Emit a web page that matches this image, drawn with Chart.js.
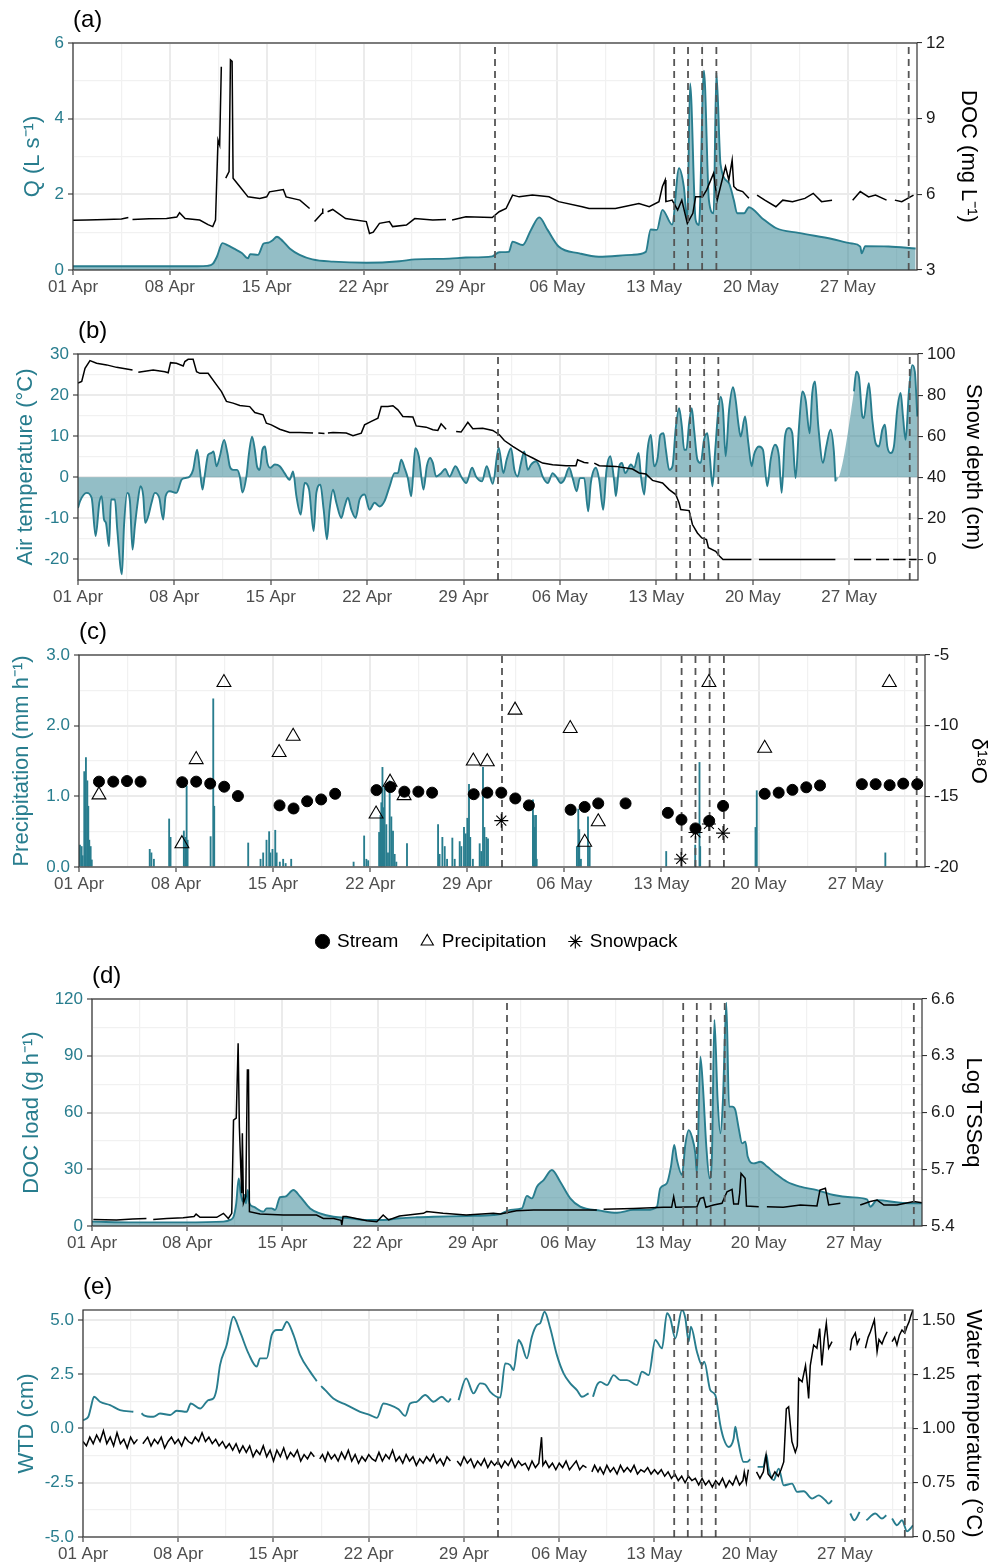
<!DOCTYPE html>
<html><head><meta charset="utf-8">
<script src="https://cdn.jsdelivr.net/npm/chart.js@4.4.1/dist/chart.umd.min.js"></script>
<style>
html,body{margin:0;padding:0;background:#fff;}
#wrap{position:relative;width:995px;height:1565px;overflow:hidden;}
.pan{position:absolute;left:0;width:995px;}
</style></head><body>
<div id="wrap">
<div class="pan" style="top:0px;height:310px"><canvas id="ca"></canvas></div>
<div class="pan" style="top:310px;height:310px"><canvas id="cb"></canvas></div>
<div class="pan" style="top:620px;height:341px"><canvas id="cc"></canvas></div>
<div class="pan" style="top:960px;height:305px"><canvas id="cd"></canvas></div>
<div class="pan" style="top:1265px;height:300px"><canvas id="ce"></canvas></div>
</div>
<script>
// ---------------- DATA (x = days since 01 Apr 00:00) ----------------
const xTickDays = [0,7,14,21,28,35,42,49,56];
const xTickLabels = ['01 Apr','08 Apr','15 Apr','22 Apr','29 Apr','06 May','13 May','20 May','27 May'];
const eventDays = [30.5,43.45,44.45,45.47,46.5,60.4];

// (a) discharge Q (L s-1) and DOC (mg L-1)
const qData = [[0,0.1],[3,0.1],[6,0.1],[9,0.1],[9.7,0.11],[10.1,0.16],[10.4,0.35],[10.8,0.71],[11.2,0.65],[11.6,0.57],[12.2,0.45],[12.65,0.31],[12.8,0.42],[13.37,0.40],[13.78,0.70],[14.1,0.72],[14.4,0.78],[14.74,0.88],[15.17,0.76],[15.66,0.57],[16.38,0.40],[17.3,0.28],[18.8,0.22],[21.2,0.19],[23.6,0.23],[24.7,0.28],[27.2,0.30],[28.4,0.33],[30.3,0.36],[30.8,0.47],[31.5,0.48],[31.77,0.75],[32.5,0.66],[33.1,1.06],[33.7,1.39],[34.3,1.06],[35.1,0.62],[36.6,0.44],[38.0,0.35],[40.4,0.40],[41.4,0.48],[41.75,1.07],[42.2,1.06],[42.6,1.59],[43.3,1.2],[43.8,2.69],[44.15,2.2],[44.4,1.32],[44.6,4.93],[45.0,1.32],[45.24,1.19],[45.6,5.27],[45.96,1.85],[46.3,1.5],[46.5,5.22],[46.8,2.8],[47.4,2.3],[47.76,1.85],[48.0,1.5],[48.5,1.5],[48.85,1.66],[49.8,1.37],[50.8,1.11],[52.45,0.98],[54.86,0.82],[56.3,0.70],[56.9,0.62],[57.0,0.44],[57.26,0.63],[58.95,0.62],[60.9,0.57]];
const docData = [[0,4.97],[1,4.98],[2.4,5.0],[3.5,5.02],[4.0,5.08],[4.15,null],[4.3,5.0],[5.5,5.03],[6.76,5.04],[7.5,5.1],[7.7,5.27],[8.1,5.04],[9.16,4.98],[9.76,4.8],[10.1,4.72],[10.3,4.98],[10.48,8.15],[10.6,7.95],[10.72,11.06],[10.85,null],[11.04,6.64],[11.28,6.9],[11.38,11.33],[11.5,11.27],[11.57,6.64],[12.05,6.31],[12.65,5.9],[13.5,5.84],[14.0,5.9],[14.2,6.1],[15.2,6.19],[15.4,5.9],[16.4,5.77],[17.1,5.44],[17.25,null],[17.46,4.92],[18.0,5.25],[18.05,5.44],[18.2,null],[18.4,5.31],[18.77,5.4],[19.7,5.04],[21.2,4.92],[21.43,4.45],[21.7,4.5],[22.15,4.85],[22.87,4.92],[23.1,4.72],[24.1,4.78],[24.7,5.04],[26.0,4.98],[26.96,5.0],[27.15,null],[27.4,4.98],[28.4,5.11],[30.3,5.08],[30.8,5.31],[31.3,5.44],[31.77,5.97],[32.25,5.9],[33.2,5.97],[34.4,5.9],[35.1,5.71],[36.8,5.51],[37.3,5.44],[39.2,5.44],[40.9,5.64],[41.65,5.51],[42.35,5.71],[42.6,6.31],[42.8,6.57],[42.85,5.71],[43.3,5.77],[43.7,5.38],[44.0,5.77],[44.4,4.85],[44.8,5.25],[45.0,5.9],[45.5,5.9],[45.8,6.18],[46.3,6.84],[46.56,5.77],[46.8,6.31],[47.16,7.1],[47.4,6.57],[47.64,7.36],[47.76,6.31],[48.0,6.18],[48.4,6.11],[48.85,5.84],[49.1,null],[49.44,5.97],[50.0,5.77],[50.8,5.51],[51.3,5.77],[52.0,5.71],[52.9,5.84],[53.5,6.04],[54.1,5.71],[54.86,5.77],[55.5,null],[56.35,5.77],[56.9,6.11],[57.5,5.9],[58.0,5.97],[58.8,5.77],[59.1,null],[59.4,5.77],[59.9,5.71],[60.75,5.97]];

// (b) air temperature (°C) and snow depth (cm)
const airTemp = [[0,-7.5],[0.15,-5.8],[0.63,-3.8],[0.99,-5.0],[1.28,-14.3],[1.55,-6.2],[1.72,-4.6],[1.89,-10.3],[2.03,-11.1],[2.25,-16.8],[2.4,-5.4],[2.68,-5.4],[2.85,-12.7],[3.19,-23.6],[3.34,-11.9],[3.58,-3.8],[3.77,-5.8],[3.96,-17.6],[4.13,-11.9],[4.33,-6.2],[4.54,-2.2],[4.74,-4.6],[4.88,-11.1],[5.1,-9.5],[5.34,-6.2],[5.58,-3.8],[5.9,-5.0],[6.19,-10.3],[6.36,-4.6],[6.67,-3.4],[7.15,-3.8],[7.52,-0.6],[7.76,-0.2],[8.12,0.2],[8.36,1.8],[8.65,6.7],[8.85,1.8],[9.04,-3.0],[9.21,0.6],[9.45,5.5],[9.69,5.9],[9.84,6.3],[10.06,2.7],[10.3,5.1],[10.61,9.1],[10.85,5.9],[11.02,2.7],[11.26,1.8],[11.55,1.8],[11.75,0.2],[11.94,-3.7],[12.23,0.2],[12.42,5.9],[12.64,9.9],[12.84,6.7],[13.0,2.7],[13.2,1.8],[13.39,6.7],[13.58,7.5],[13.75,3.5],[13.97,2.3],[14.29,3.1],[14.65,2.7],[15.0,1.0],[15.37,-0.6],[15.62,1.4],[15.86,-4.6],[16.17,-9.1],[16.46,-1.4],[16.78,-3.0],[17.11,-13.1],[17.31,-3.8],[17.6,-1.8],[17.84,-7.9],[18.08,-15.1],[18.27,-7.9],[18.52,-3.0],[18.76,-6.2],[19.12,-9.9],[19.36,-7.1],[19.6,-5.0],[19.85,-7.9],[20.16,-9.9],[20.45,-5.4],[20.81,-4.2],[21.17,-7.9],[21.54,-6.2],[21.9,-7.1],[22.26,-5.8],[22.63,-2.2],[22.99,1.0],[23.23,1.0],[23.47,4.3],[23.71,2.3],[23.95,-0.2],[24.2,-4.6],[24.49,7.1],[24.75,5.1],[25.09,-3.0],[25.33,2.7],[25.57,4.7],[25.77,3.5],[26.0,0.2],[26.37,1.0],[26.66,2.0],[26.98,0.2],[27.41,2.7],[27.82,0.2],[28.19,-1.4],[28.62,2.3],[28.9,0.2],[29.34,-1.0],[29.68,2.7],[30.12,-1.6],[30.55,7.2],[30.89,1.0],[31.13,4.3],[31.45,7.1],[31.69,1.8],[31.93,0.2],[32.17,3.5],[32.41,6.3],[32.66,1.8],[32.9,3.1],[33.26,3.9],[33.5,2.7],[33.74,0.2],[34.11,-1.4],[34.47,1.0],[34.71,0.2],[35.07,-1.4],[35.31,-0.6],[35.67,2.3],[35.92,-0.2],[36.21,-3.4],[36.45,-0.2],[36.76,-0.2],[37.05,-8.3],[37.24,-1.4],[37.61,2.3],[37.85,-0.6],[38.14,-7.9],[38.38,1.8],[38.65,5.1],[38.94,-1.0],[39.06,-4.6],[39.3,2.7],[39.5,3.5],[39.74,1.0],[40.15,3.1],[40.39,2.3],[40.71,5.9],[40.88,0.2],[41.12,-4.2],[41.36,6.7],[41.6,10.3],[41.84,2.7],[42.09,4.7],[42.28,10.3],[42.52,10.7],[42.69,6.7],[42.93,1.8],[43.17,2.7],[43.41,12.0],[43.65,16.8],[43.85,12.4],[44.02,6.7],[44.18,6.7],[44.38,13.2],[44.57,16.8],[44.74,11.6],[44.98,4.3],[45.22,3.5],[45.46,9.1],[45.7,10.7],[45.9,4.3],[46.07,-2.2],[46.26,5.9],[46.5,16.4],[46.67,19.6],[46.84,16.4],[47.03,5.1],[47.28,16.4],[47.57,21.9],[47.76,18.8],[47.95,13.2],[48.12,9.9],[48.44,14.8],[48.68,8.3],[48.92,2.7],[49.09,5.5],[49.45,7.5],[49.74,6.7],[50.06,-2.2],[50.3,4.3],[50.61,7.9],[50.9,5.1],[51.1,-3.8],[51.34,9.9],[51.63,12.0],[51.87,10.7],[52.11,-0.2],[52.36,12.4],[52.6,20.9],[52.84,18.8],[53.13,10.7],[53.32,20.5],[53.52,23.3],[53.76,12.4],[54.1,3.5],[54.34,7.5],[54.65,11.6],[54.89,6.3],[55.01,-1.0],[55.5,null],[56.35,20.9],[56.52,25.7],[56.71,24.5],[56.96,14.8],[57.07,14.4],[57.27,19.6],[57.43,22.9],[57.68,14.0],[57.92,8.3],[58.16,7.5],[58.41,11.6],[58.6,12.8],[58.77,7.5],[59.01,5.9],[59.25,7.5],[59.49,16.4],[59.74,20.5],[59.91,14.8],[60.1,9.1],[60.34,20.9],[60.58,27.3],[60.77,25.7],[60.95,14.8]];
const snowDepth = [[0,85.8],[0.27,86.6],[0.51,93.0],[0.87,96.8],[1.35,95.5],[2.08,94.7],[2.8,93.5],[3.96,92.2],[4.15,null],[4.38,91.1],[5.46,92.2],[6.31,91.4],[6.55,90.9],[6.72,95.8],[7.15,95.5],[7.64,94.2],[7.76,96.3],[8.0,97.4],[8.36,97.4],[8.61,91.4],[8.85,90.6],[9.45,90.6],[10.06,85.0],[10.42,81.7],[10.78,76.9],[11.26,76.1],[11.75,74.9],[12.47,74.4],[12.84,71.5],[13.44,70.4],[13.68,66.3],[14.04,65.5],[14.65,63.4],[15.37,61.8],[16.1,61.8],[17.07,61.5],[17.25,null],[17.45,61.5],[17.9,61.3],[18.0,null],[18.15,61.6],[18.52,61.8],[19.48,61.5],[19.97,60.2],[20.57,61.5],[20.81,65.5],[21.3,67.2],[21.78,68.8],[22.02,74.4],[22.5,74.4],[22.87,74.8],[23.23,72.8],[23.59,69.6],[24.32,69.3],[24.56,65.0],[25.28,64.4],[25.77,63.1],[26.13,62.8],[26.37,66.0],[26.73,63.4],[27.0,null],[27.46,62.3],[27.82,62.0],[28.31,66.8],[28.67,63.6],[29.39,63.9],[30.12,62.8],[30.6,60.7],[30.96,57.9],[31.57,55.0],[32.53,51.0],[33.02,49.4],[33.74,46.9],[34.47,46.1],[35.44,45.6],[36.16,45.6],[36.28,48.5],[36.76,47.2],[37.07,46.9],[37.25,null],[37.49,46.9],[37.85,45.6],[39.06,45.3],[40.27,44.0],[40.75,42.1],[41.24,41.6],[41.72,38.5],[42.45,37.2],[42.93,34.0],[43.41,31.6],[43.65,27.5],[43.77,24.3],[44.38,23.8],[44.62,17.0],[44.98,12.9],[45.3,10.5],[45.64,9.7],[45.78,5.7],[46.31,4.0],[46.6,1.6],[46.84,0],[48.9,0],[49.1,null],[49.45,0],[55.0,0],[55.5,null],[56.35,0],[57.6,0],[57.75,null],[57.95,0],[58.9,0],[59.05,null],[59.2,0],[60.1,0],[60.2,null],[60.35,0],[60.9,0]];

// (c) precipitation rate (mm h-1) and d18O
const precipRate = [[0.07,0.31],[0.19,0.29],[0.26,0.16],[0.38,1.35],[0.46,0.82],[0.5,1.55],[0.6,1.22],[0.67,0.86],[0.74,0.38],[0.84,0.29],[0.92,0.1],[5.1,0.25],[5.22,0.2],[5.4,0.11],[6.5,0.68],[6.6,0.42],[7.56,0.51],[7.66,0.42],[7.76,1.15],[7.83,0.38],[9.49,0.43],[9.68,2.38],[9.75,0.86],[12.2,0.34],[13.09,0.11],[13.28,0.2],[13.52,0.38],[13.71,0.5],[13.8,0.2],[13.95,0.25],[14.15,0.52],[14.25,0.2],[14.48,0.07],[14.72,0.11],[14.9,0.05],[15.3,0.11],[19.8,0.07],[20.56,0.44],[20.72,0.11],[20.85,0.09],[21.64,0.49],[21.74,0.73],[21.8,0.91],[21.88,1.41],[21.97,0.84],[22.04,1.13],[22.16,0.6],[22.28,0.2],[22.4,1.22],[22.52,0.71],[22.64,0.51],[22.76,0.18],[22.88,0.07],[23.65,0.33],[25.89,0.6],[26.0,0.18],[26.2,0.42],[26.37,0.29],[26.54,0.11],[26.92,0.41],[27.09,0.11],[27.45,0.36],[27.57,0.29],[27.76,0.56],[27.88,0.47],[28.0,0.69],[28.12,1.17],[28.21,0.42],[28.4,0.11],[28.89,0.33],[29.0,0.22],[29.13,1.41],[29.23,0.56],[29.37,0.42],[29.49,0.4],[32.73,0.95],[32.8,0.73],[32.87,0.56],[32.95,0.73],[33.0,0.11],[35.9,0.29],[36.0,0.82],[36.07,0.53],[36.19,0.11],[36.7,0.71],[36.82,0.29],[42.34,0.22],[44.43,0.31],[44.74,1.48],[44.79,0.29],[48.78,0.56],[48.82,0.3],[48.87,1.08],[58.14,0.2]];
const d18OStream = [[1.44,-13.96],[2.47,-13.96],[3.46,-13.92],[4.44,-13.96],[7.44,-14.0],[8.45,-13.96],[9.46,-14.1],[10.47,-14.32],[11.46,-14.98],[14.46,-15.64],[15.47,-15.86],[16.45,-15.35],[17.46,-15.22],[18.47,-14.82],[21.45,-14.56],[22.45,-14.34],[23.46,-14.67],[24.47,-14.67],[25.46,-14.74],[28.46,-14.85],[29.44,-14.74],[30.45,-14.74],[31.46,-15.15],[32.44,-15.64],[35.45,-15.95],[36.46,-15.75],[37.44,-15.5],[39.41,-15.5],[42.46,-16.17],[43.44,-16.65],[44.45,-17.27],[45.44,-16.74],[46.44,-15.68],[49.44,-14.82],[50.45,-14.74],[51.44,-14.54],[52.44,-14.36],[53.43,-14.23],[56.45,-14.14],[57.44,-14.14],[58.45,-14.21],[59.43,-14.1],[60.44,-14.14]];
const d18OPrecip = [[1.44,-14.9],[7.42,-18.35],[8.45,-12.4],[10.45,-6.95],[14.43,-11.9],[15.44,-10.75],[21.42,-16.25],[22.43,-14.0],[23.44,-14.95],[28.43,-12.5],[29.44,-12.55],[31.44,-8.9],[35.42,-10.2],[36.46,-18.25],[37.44,-16.8],[45.42,-6.95],[49.44,-11.6],[58.43,-6.95]];
const d18OSnow = [[30.45,-16.72],[43.42,-19.43],[44.45,-17.56],[45.42,-16.96],[46.44,-17.6]];

// (d) DOC load (g h-1) and log TSSeq
const docLoad = [[0,2.3],[3.04,1.9],[6.7,1.9],[9.66,2.3],[10.15,3.2],[10.4,4.9],[10.6,12.0],[10.78,25.2],[10.93,17.3],[11.08,12.9],[11.2,16.4],[11.32,12.0],[11.45,19.0],[11.57,12.0],[11.86,10.2],[12.6,7.6],[12.84,9.3],[13.2,9.3],[13.46,8.5],[13.82,15.2],[14.19,15.5],[14.8,19.0],[15.3,15.5],[16.03,9.3],[16.76,6.7],[17.75,4.9],[18.97,4.1],[20.2,3.2],[21.4,3.2],[22.6,4.1],[23.87,4.6],[25.1,4.9],[27.55,5.3],[29.5,5.8],[30.0,6.3],[30.74,8.5],[31.59,9.3],[31.96,15.9],[32.33,14.6],[32.7,20.8],[33.19,24.3],[33.8,29.6],[34.41,23.4],[35.15,14.6],[35.88,10.2],[37.35,8.1],[38.58,7.0],[39.8,8.5],[40.78,8.5],[41.52,10.2],[41.76,19.9],[42.25,22.6],[42.55,31.4],[42.79,42.8],[42.99,34.9],[43.36,27.0],[43.6,42.8],[43.85,50.7],[44.09,47.2],[44.34,38.4],[44.46,27.8],[44.71,89.5],[44.9,73.7],[45.15,41.9],[45.39,25.2],[45.56,36.7],[45.74,108.9],[45.98,66.6],[46.18,49.0],[46.37,66.6],[46.62,118.1],[46.82,63.1],[47.06,63.1],[47.28,61.3],[47.53,51.6],[47.78,43.7],[48.02,44.6],[48.19,36.7],[48.63,33.1],[49.12,34.0],[49.61,31.4],[50.22,27.8],[51.08,23.4],[52.06,20.8],[53.28,19.0],[54.51,16.4],[55.74,15.2],[56.96,14.1],[57.2,10.2],[57.7,13.7],[59.4,12.3],[61,12.0]];
const logTss = [[0.1,5.435],[1.8,5.432],[3.0,5.437],[4.0,5.44],[4.15,null],[4.5,5.435],[5.5,5.44],[6.7,5.444],[7.5,5.45],[7.65,5.463],[7.94,5.446],[9.17,5.446],[9.66,5.467],[10.02,5.44],[10.27,5.467],[10.4,5.96],[10.6,5.97],[10.74,6.366],[10.83,5.925],[11.0,5.573],[11.05,5.89],[11.13,5.52],[11.3,5.555],[11.42,6.225],[11.5,6.225],[11.57,5.476],[12.35,5.463],[14.07,5.458],[15.3,5.458],[16.5,5.458],[17.0,5.44],[17.75,5.44],[18.3,5.43],[18.36,5.405],[18.45,5.45],[18.7,5.45],[20.2,5.428],[20.93,5.423],[21.4,5.458],[21.8,5.432],[22.6,5.453],[24.36,5.467],[24.6,5.476],[25.8,5.467],[27.5,5.458],[29.5,5.467],[30.0,5.463],[31.2,5.481],[32.45,5.485],[34.9,5.485],[37.1,5.485],[37.3,null],[37.6,5.488],[39.8,5.493],[42.0,5.499],[42.6,5.499],[42.75,5.555],[42.9,5.499],[44.46,5.502],[44.7,5.546],[44.95,5.551],[45.12,5.499],[45.68,5.511],[46.3,5.52],[46.67,5.581],[47.04,5.594],[47.16,5.516],[47.5,5.516],[47.6,5.573],[47.7,5.678],[48.0,5.652],[48.1,5.506],[49.0,5.502],[49.2,null],[49.6,5.502],[50.8,5.499],[52.06,5.511],[53.28,5.506],[53.5,5.59],[53.9,5.6],[54.14,5.511],[55.0,5.52],[55.5,null],[56.46,5.511],[57.2,5.529],[57.7,5.537],[58.2,5.511],[59.16,5.511],[60.4,5.529],[61.0,5.523]];

// (e) water table depth (cm) and water temperature (°C)
const wtd = [[0,0.38],[0.39,0.54],[0.56,0.92],[0.81,1.46],[1.25,1.23],[1.99,1.08],[2.72,0.85],[3.7,0.77],[3.9,null],[4.3,0.7],[4.44,0.62],[5.17,0.54],[5.66,0.69],[6.4,0.62],[6.89,0.82],[7.62,0.77],[7.92,1.15],[8.6,0.92],[9.22,1.31],[9.58,1.38],[9.83,1.85],[10.07,2.92],[10.56,3.85],[11.05,5.15],[11.54,4.46],[12.16,3.46],[12.77,2.85],[13.01,3.23],[13.5,3.23],[13.87,4.31],[14.24,4.54],[14.6,4.54],[14.98,4.92],[15.47,4.31],[15.96,3.38],[16.69,2.62],[17.18,2.18],[17.3,null],[17.5,1.95],[17.8,1.77],[18.4,1.38],[19.39,1.08],[20.37,0.77],[21.1,0.62],[21.6,0.49],[22.08,1.15],[22.57,1.08],[23.19,0.89],[23.68,0.58],[24.04,1.15],[24.53,1.23],[25.15,1.54],[25.76,1.23],[26.37,1.46],[26.86,1.23],[27.03,1.38],[27.2,null],[27.6,1.31],[28.16,2.31],[28.7,1.62],[29.19,2.08],[29.56,2.03],[29.93,1.69],[30.66,1.42],[31.03,3.0],[31.4,2.92],[31.64,2.69],[32.01,4.08],[32.25,3.85],[32.62,3.23],[32.99,4.23],[33.36,4.77],[33.6,4.85],[33.92,5.38],[34.34,4.62],[34.83,3.38],[35.32,2.54],[35.81,2.08],[36.3,1.77],[36.67,1.46],[37.16,1.62],[37.3,null],[37.48,1.46],[37.77,2.0],[38.02,2.15],[38.51,2.0],[39.0,2.46],[39.49,2.23],[39.98,2.23],[40.71,2.0],[41.08,2.62],[41.57,2.46],[42.06,4.08],[42.55,3.69],[42.92,5.31],[43.16,5.08],[43.53,4.15],[44.02,5.46],[44.27,5.08],[44.51,4.0],[44.68,4.69],[45.12,3.54],[45.49,2.92],[45.66,3.08],[46.1,1.77],[46.47,1.54],[46.84,0.15],[47.08,-0.46],[47.45,-0.85],[47.82,-0.46],[47.94,0.08],[48.11,-0.46],[48.55,-1.54],[48.8,-1.54],[49.04,-1.42],[49.3,null],[49.58,-1.77],[50.0,-1.77],[50.22,-1.2],[50.39,-1.85],[50.76,-2.38],[51.13,-1.85],[51.5,-2.62],[52.11,-2.54],[52.48,-2.92],[52.97,-2.89],[53.58,-3.23],[54.07,-3.08],[54.56,-3.31],[54.8,-3.46],[55.05,-3.31],[55.5,null],[56.39,-3.92],[56.69,-4.23],[57.08,-3.85],[57.3,null],[57.57,-4.23],[58.23,-3.92],[58.72,-4.15],[59.04,-4.0],[59.25,null],[59.46,-4.15],[59.82,-4.46],[60.19,-4.23],[60.56,-4.74],[60.8,-4.62],[61.0,-4.46]];
const waterTemp = [[0,0.94],[0.25,0.92],[0.5,0.96],[0.75,0.93],[1,0.97],[1.25,0.94],[1.5,0.99],[1.75,0.93],[2,0.96],[2.25,0.92],[2.5,0.98],[2.75,0.93],[3,0.95],[3.25,0.91],[3.5,0.96],[3.75,0.93],[4,0.95],[4.15,null],[4.4,0.93],[4.75,0.96],[5,0.92],[5.25,0.95],[5.5,0.93],[5.75,0.96],[6,0.91],[6.25,0.94],[6.5,0.96],[6.75,0.93],[7,0.95],[7.25,0.92],[7.5,0.96],[7.75,0.94],[8,0.93],[8.25,0.96],[8.5,0.94],[8.75,0.98],[9,0.94],[9.25,0.96],[9.5,0.93],[9.75,0.95],[10,0.92],[10.25,0.94],[10.5,0.91],[10.75,0.93],[11,0.9],[11.25,0.93],[11.5,0.89],[11.75,0.92],[12,0.89],[12.25,0.92],[12.5,0.87],[12.75,0.9],[13,0.88],[13.25,0.92],[13.5,0.87],[13.75,0.9],[14,0.85],[14.25,0.9],[14.5,0.87],[14.75,0.91],[15,0.86],[15.25,0.89],[15.5,0.87],[15.75,0.9],[16,0.85],[16.25,0.88],[16.5,0.86],[16.75,0.89],[17,0.87],[17.15,null],[17.4,0.86],[17.6,0.88],[17.8,0.85],[18,0.89],[18.25,0.86],[18.5,0.88],[18.75,0.85],[19,0.89],[19.25,0.86],[19.5,0.9],[19.75,0.85],[20,0.88],[20.25,0.84],[20.5,0.87],[20.75,0.85],[21,0.88],[21.25,0.86],[21.5,0.85],[21.75,0.89],[22,0.85],[22.25,0.88],[22.5,0.86],[22.75,0.9],[23,0.85],[23.25,0.87],[23.5,0.84],[23.75,0.88],[24,0.85],[24.25,0.87],[24.5,0.83],[24.75,0.86],[25,0.84],[25.25,0.87],[25.5,0.85],[25.75,0.88],[26,0.84],[26.25,0.86],[26.5,0.83],[26.75,0.87],[27,0.85],[27.15,null],[27.5,0.85],[27.75,0.83],[28,0.87],[28.25,0.84],[28.5,0.86],[28.75,0.82],[29,0.85],[29.25,0.83],[29.5,0.86],[29.75,0.82],[30,0.85],[30.25,0.83],[30.5,0.85],[30.75,0.82],[31,0.85],[31.25,0.83],[31.5,0.86],[31.75,0.82],[32,0.85],[32.25,0.83],[32.5,0.84],[32.75,0.81],[33,0.85],[33.25,0.82],[33.5,0.84],[33.7,0.96],[33.8,0.83],[34,0.85],[34.25,0.82],[34.5,0.84],[34.75,0.81],[35,0.84],[35.25,0.82],[35.5,0.85],[35.75,0.81],[36,0.83],[36.25,0.85],[36.5,0.81],[36.75,0.83],[37,0.82],[37.2,null],[37.4,0.8],[37.6,0.83],[37.85,0.8],[38,0.82],[38.25,0.79],[38.5,0.83],[38.75,0.8],[39,0.82],[39.25,0.79],[39.5,0.83],[39.75,0.8],[40,0.82],[40.25,0.8],[40.5,0.83],[40.75,0.79],[41,0.81],[41.25,0.8],[41.5,0.82],[41.75,0.79],[42,0.81],[42.25,0.79],[42.5,0.81],[42.75,0.78],[43,0.8],[43.25,0.77],[43.5,0.79],[43.75,0.76],[44,0.78],[44.25,0.75],[44.5,0.78],[44.75,0.76],[45,0.77],[45.25,0.74],[45.5,0.77],[45.75,0.74],[46,0.76],[46.25,0.73],[46.5,0.76],[46.75,0.74],[47,0.77],[47.25,0.73],[47.5,0.76],[47.75,0.74],[48,0.78],[48.25,0.74],[48.5,0.76],[48.6,0.8],[48.75,0.75],[48.9,0.81],[49.0,null],[49.5,0.8],[49.75,0.77],[50,0.8],[50.2,0.877],[50.35,0.79],[50.6,0.77],[50.85,0.8],[51.1,0.78],[51.3,0.81],[51.5,0.846],[51.69,1.09],[51.86,1.1],[52.1,0.94],[52.35,0.89],[52.5,0.92],[52.6,1.23],[52.85,1.215],[53.1,1.29],[53.2,1.23],[53.33,1.138],[53.45,1.29],[53.7,1.385],[53.94,1.37],[54.14,1.46],[54.3,1.29],[54.48,1.415],[54.63,1.485],[54.8,1.37],[55.05,1.4],[55.5,null],[56.39,1.36],[56.5,1.41],[56.76,1.44],[56.9,1.39],[57.08,1.415],[57.25,null],[57.5,1.37],[57.7,1.42],[57.87,1.446],[58.16,1.5],[58.36,1.354],[58.5,1.41],[58.72,1.39],[58.9,1.42],[59.1,1.446],[59.3,null],[59.46,1.4],[59.65,1.42],[59.82,1.385],[60.0,1.43],[60.19,1.454],[60.4,1.44],[60.56,1.47],[60.7,1.49],[60.86,1.523],[61.0,1.546]];

// tick values / labels
const aLeftTicks=[0,2,4,6], aLeftLabels=['0','2','4','6'];
const aRightTicks=[3,6,9,12], aRightLabels=['3','6','9','12'];
const bLeftTicks=[-20,-10,0,10,20,30], bLeftLabels=['-20','-10','0','10','20','30'];
const bRightTicks=[0,20,40,60,80,100], bRightLabels=['0','20','40','60','80','100'];
const cLeftTicks=[0,1,2,3], cLeftLabels=['0.0','1.0','2.0','3.0'];
const cRightTicks=[-20,-15,-10,-5], cRightLabels=['-20','-15','-10','-5'];
const dLeftTicks=[0,30,60,90,120], dLeftLabels=['0','30','60','90','120'];
const dRightTicks=[5.4,5.7,6.0,6.3,6.6], dRightLabels=['5.4','5.7','6.0','6.3','6.6'];
const eLeftTicks=[-5,-2.5,0,2.5,5], eLeftLabels=['-5.0','-2.5','0.0','2.5','5.0'];
const eRightTicks=[0.5,0.75,1,1.25,1.5], eRightLabels=['0.50','0.75','1.00','1.25','1.50'];

// ---------------- STYLE / HELPERS ----------------
const FONT='"Liberation Sans", Arial, Helvetica, sans-serif';
Chart.defaults.font.family = FONT;
Chart.defaults.animation = false;
const TEAL='#287D8E', TEAL_FILL='rgba(40,125,142,0.5)';
const TICK=17, TITLE=22;
const GRID_MAJ='#EBEBEB', GRID_MIN='#F1F1F1';
const near=(a,b)=>Math.abs(a-b)<1e-6;
const P=arr=>arr.map(p=>({x:p[0],y:p[1]}));
function withMinors(maj,min,max){
  const out=[]; const st=maj[1]-maj[0];
  for(let i=0;i<maj.length;i++){ out.push(maj[i]); if(i<maj.length-1) out.push((maj[i]+maj[i+1])/2); }
  if(maj[0]-st/2>=min-1e-9) out.unshift(maj[0]-st/2);
  if(maj[maj.length-1]+st/2<=max+1e-9) out.push(maj[maj.length-1]+st/2);
  return out;
}
const xGrid = xTickDays.flatMap(d=>[d,d+3.5]);
const isMaj=(list,c)=>c&&c.tick&&list.some(v=>near(v,c.tick.value));

function xScale(h){
  return {type:'linear',min:0,max:61,offset:false,
    afterBuildTicks(s){s.ticks=xGrid.map(v=>({value:v}));},
    afterFit(s){s.height=h;},
    ticks:{autoSkip:false,maxRotation:0,minRotation:0,color:'#4D4D4D',font:{size:TICK},padding:2,
      callback(v){const i=xTickDays.findIndex(d=>near(d,v));return i>=0?xTickLabels[i]:'';}},
    grid:{offset:false,color:c=>isMaj(xTickDays,c)?GRID_MAJ:GRID_MIN,lineWidth:c=>isMaj(xTickDays,c)?2:1.2,
      tickLength:5,tickColor:c=>isMaj(xTickDays,c)?'#333':'rgba(0,0,0,0)',tickWidth:1.1},
    border:{display:false}};
}
function yLeft(o){
  const g=withMinors(o.ticks,o.min,o.max);
  return {position:'left',min:o.min,max:o.max,
    afterBuildTicks(s){s.ticks=g.map(v=>({value:v}));},
    afterFit(s){s.width=o.w;},
    ticks:{autoSkip:false,color:TEAL,font:{size:TICK},padding:4,
      callback(v){const i=o.ticks.findIndex(m=>near(m,v));return i>=0?o.labels[i]:'';}},
    grid:{color:c=>isMaj(o.ticks,c)?GRID_MAJ:GRID_MIN,lineWidth:c=>isMaj(o.ticks,c)?2:1.2,
      tickLength:5,tickColor:c=>isMaj(o.ticks,c)?'#333':'rgba(0,0,0,0)',tickWidth:1.1},
    border:{display:false},
    title:{display:true,text:o.title,color:TEAL,font:{size:TITLE},padding:{top:o.tp,bottom:0}}};
}
function yRight(o){
  return {position:'right',min:o.min,max:o.max,
    afterBuildTicks(s){s.ticks=o.ticks.map(v=>({value:v}));},
    afterFit(s){s.width=o.w;},
    ticks:{autoSkip:false,color:'#1A1A1A',font:{size:TICK},padding:4,
      callback(v){const i=o.ticks.findIndex(m=>near(m,v));return i>=0?o.labels[i]:'';}},
    grid:{drawOnChartArea:false,tickLength:5,tickColor:'#333',tickWidth:1.1,lineWidth:1.1},
    border:{display:false},
    title:{display:true,text:o.title,color:'#000',font:{size:TITLE},padding:{top:o.tp,bottom:0}}};
}
function events(y0,y1){
  return eventDays.map(d=>({type:'line',label:'_event',data:[{x:d,y:y0},{x:d,y:y1}],borderColor:'#555',
    borderWidth:1.8,borderDash:[7,5],pointRadius:0,fill:false,order:1,yAxisID:'y'}));
}
const panelDeco={id:'panelDeco',
  afterDraw(chart,args,opts){
    const {ctx,chartArea:a}=chart; ctx.save();
    ctx.strokeStyle='#333'; ctx.lineWidth=1.2;
    ctx.strokeRect(a.left,a.top,a.right-a.left,a.bottom-a.top);
    ctx.fillStyle='#000'; ctx.font='24px '+FONT; ctx.textBaseline='middle'; ctx.textAlign='left';
    ctx.fillText(opts.label,a.left,a.top-23);
    ctx.restore();
  }};
function make(id,o){
  return new Chart(document.getElementById(id),{
    type:'line',
    data:{datasets:o.datasets},
    options:{responsive:true,maintainAspectRatio:false,animation:false,
      layout:{padding:{top:o.top,left:0,right:0,bottom:0}},
      scales:{x:xScale(o.xh),y:yLeft(o.y),y2:yRight(o.y2)},
      elements:{point:{radius:0},line:{tension:0}},
      plugins:{legend:o.legend||{display:false},tooltip:{enabled:false},panelDeco:{label:o.label}}},
    plugins:[panelDeco]});
}
const areaSet=(data,yid)=>({label:'_area',data:P(data),yAxisID:yid,fill:'origin',backgroundColor:TEAL_FILL,borderWidth:0,spanGaps:true,pointRadius:0,cubicInterpolationMode:'monotone',order:5});
const tealLine=(data,yid)=>({label:'_tl',data:P(data),yAxisID:yid,fill:false,borderColor:TEAL,borderWidth:1.9,spanGaps:false,pointRadius:0,cubicInterpolationMode:'monotone',order:4});
const blackLine=(data,yid)=>({label:'_bl',data:P(data),yAxisID:yid,fill:false,borderColor:'#000',borderWidth:1.5,spanGaps:false,pointRadius:0,order:3});

// (a)
make('ca',{top:43,xh:40,label:'(a)',
  y:{min:0,max:6,ticks:aLeftTicks,labels:aLeftLabels,w:73,title:'Q (L s\u207B\u00B9)',tp:20},
  y2:{min:3,max:12,ticks:aRightTicks,labels:aRightLabels,w:78,title:'DOC (mg L\u207B\u00B9)',tp:14},
  datasets:[areaSet(qData,'y'),tealLine(qData,'y'),blackLine(docData,'y2'),...events(0,6)]});
// (b)
make('cb',{top:44,xh:40,label:'(b)',
  y:{min:-25,max:30,ticks:bLeftTicks,labels:bLeftLabels,w:78,title:'Air temperature (\u00B0C)',tp:13},
  y2:{min:-10,max:100,ticks:bRightTicks,labels:bRightLabels,w:77,title:'Snow depth (cm)',tp:9},
  datasets:[areaSet(airTemp,'y'),tealLine(airTemp,'y'),blackLine(snowDepth,'y2'),...events(-25,30)]});
// (c)
make('cc',{top:35,xh:41,label:'(c)',
  y:{min:0,max:3,ticks:cLeftTicks,labels:cLeftLabels,w:79,title:'Precipitation (mm h\u207B\u00B9)',tp:9},
  y2:{min:-20,max:-5,ticks:cRightTicks,labels:cRightLabels,w:70,title:'\u03B4\u00B9\u2078O',tp:4},
  legend:{display:true,position:'bottom',labels:{usePointStyle:true,boxWidth:10,boxHeight:10,padding:24,color:'#000',font:{size:19},
    filter:it=>!it.text.startsWith('_')}},
  datasets:[
    {label:'Stream',data:P(d18OStream),yAxisID:'y2',showLine:false,pointStyle:'circle',pointRadius:5.5,pointBackgroundColor:'#000',pointBorderColor:'#000',borderColor:'#000',backgroundColor:'#000',pointBorderWidth:1,order:0},
    {label:'Precipitation',data:P(d18OPrecip),yAxisID:'y2',showLine:false,pointStyle:'triangle',pointRadius:8,pointBackgroundColor:'rgba(255,255,255,0)',backgroundColor:'rgba(255,255,255,0)',pointBorderColor:'#000',borderColor:'#000',pointBorderWidth:1.1,order:0},
    {label:'Snowpack',data:P(d18OSnow),yAxisID:'y2',showLine:false,pointStyle:'star',pointRadius:7,pointBorderColor:'#000',borderColor:'#000',pointBorderWidth:1.1,order:0},
    {type:'bar',label:'_precip',data:P(precipRate),yAxisID:'y',backgroundColor:TEAL,borderWidth:0,barThickness:1.2,grouped:false,order:6},
    ...events(0,3)]});
// (d)
make('cd',{top:39,xh:39,label:'(d)',
  y:{min:0,max:120,ticks:dLeftTicks,labels:dLeftLabels,w:92,title:'DOC load (g h\u207B\u00B9)',tp:19},
  y2:{min:5.4,max:6.6,ticks:dRightTicks,labels:dRightLabels,w:73,title:'Log TSSeq',tp:9},
  datasets:[areaSet(docLoad,'y'),tealLine(docLoad,'y'),blackLine(logTss,'y2'),...events(0,120)]});
// (e)
make('ce',{top:45,xh:28,label:'(e)',
  y:{min:-5,max:5.46,ticks:eLeftTicks,labels:eLeftLabels,w:83,title:'WTD (cm)',tp:14},
  y2:{min:0.5,max:1.546,ticks:eRightTicks,labels:eRightLabels,w:82,title:'Water temperature (\u00B0C)',tp:9},
  datasets:[tealLine(wtd,'y'),blackLine(waterTemp,'y2'),...events(-5,5.46)]});
</script>
</body></html>
